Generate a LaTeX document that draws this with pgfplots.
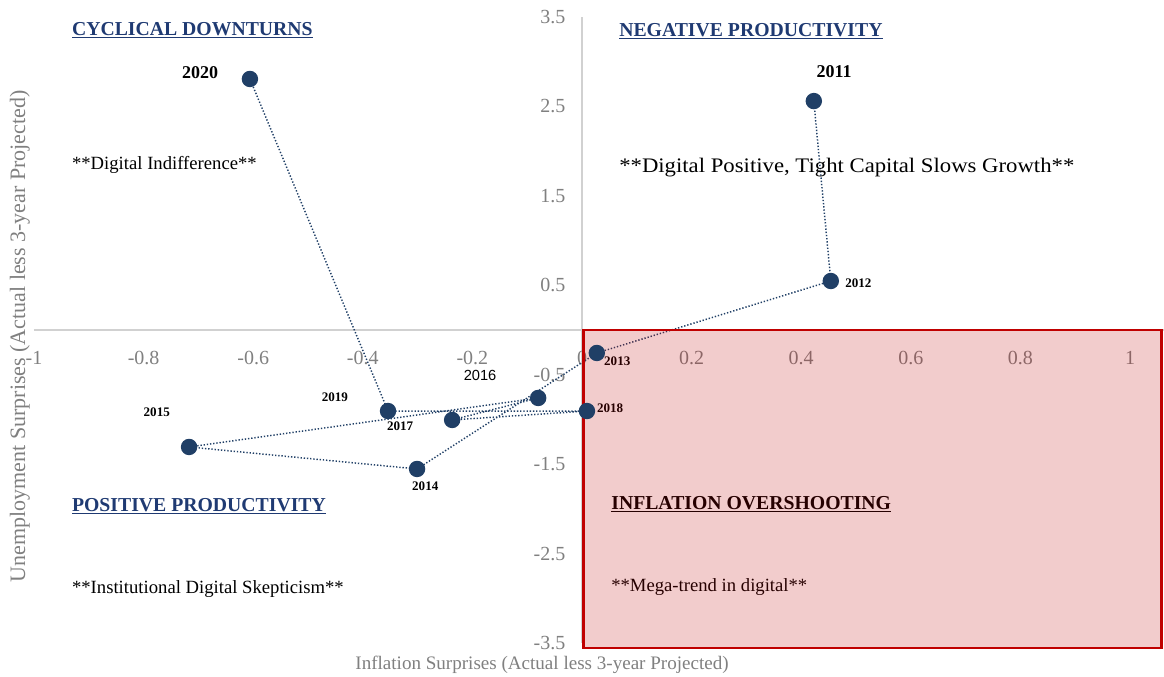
\documentclass[border=0pt]{standalone}
\usepackage{fontspec}
\setmainfont{Liberation Serif}
\newfontfamily\sansf{Liberation Sans}
\usepackage{graphicx}
\usepackage{pgfplots}
\pgfplotsset{compat=1.18}
\definecolor{navy}{HTML}{203F66}
\definecolor{headnavy}{HTML}{1F3A72}
\definecolor{tickgray}{HTML}{808080}
\definecolor{boxred}{HTML}{C00000}
\begin{document}
\begin{tikzpicture}[x=1pt,y=1pt]
\begin{axis}[
  scale only axis,
  width=847.5pt, height=469.5pt,
  xmin=-1, xmax=1.062, ymin=-3.5, ymax=3.5,
  axis lines=middle,
  axis line style={draw=black!18, line width=0.8pt, -},
  xtick={-1,-0.8,-0.6,-0.4,-0.2,0,0.2,0.4,0.6,0.8,1},
  ytick={-3.5,-2.5,-1.5,-0.5,0.5,1.5,2.5,3.5},
  hide obscured x ticks=false,
  hide obscured y ticks=false,
  major tick length=0pt,
  tick style={draw=none},
  /pgf/number format/assume math mode=true,
  xticklabel style={font=\fontsize{15}{16}\selectfont, text=tickgray, anchor=center, yshift=-21pt},
  yticklabel style={font=\fontsize{15}{16}\selectfont, text=tickgray, anchor=east, xshift=-9pt},
  xticklabel={\pgfmathprintnumber[fixed]{\tick}},
  yticklabel={\pgfmathprintnumber[fixed,precision=1]{\tick}},
  xlabel={Inflation Surprises (Actual less 3-year Projected)},
  ylabel={Unemployment Surprises (Actual less 3-year Projected)},
  xlabel style={at={(axis description cs:0.4496,-0.0351)}, anchor=center, font=\fontsize{14.3}{16}\selectfont, text=tickgray},
  ylabel style={at={(axis description cs:-0.0124,0.49)}, anchor=center, rotate=90, font=\fontsize{16.5}{18}\selectfont, text=tickgray},
  clip=false,
]
\addplot[navy, line width=1.1pt, dash pattern=on 1pt off 1.4pt,
  mark=*, mark size=5.6pt, mark options={solid, fill=navy, draw=navy}]
  coordinates {
  (0.423,2.56)   % 2011
  (0.454,0.548)  % 2012
  (0.027,-0.257) % 2013
  (-0.301,-1.554)% 2014
  (-0.717,-1.308)% 2015
  (-0.080,-0.760)% 2016
  (-0.237,-1.006)% 2017
  (0.009,-0.906) % 2018
  (-0.354,-0.906)% 2019
  (-0.606,2.807) % 2020
  };
% quadrant headings
\node[anchor=west, inner sep=0pt, text=headnavy, font=\fontsize{14.8}{16}\selectfont\bfseries] at (axis cs:-0.931,3.355) {\underline{CYCLICAL DOWNTURNS}};
\node[anchor=west, inner sep=0pt, text=headnavy, font=\fontsize{14.8}{16}\selectfont\bfseries] at (axis cs:0.0675,3.343) {\underline{NEGATIVE PRODUCTIVITY}};
\node[anchor=west, inner sep=0pt, text=headnavy, font=\fontsize{14.8}{16}\selectfont\bfseries] at (axis cs:-0.931,-1.968) {\underline{POSITIVE PRODUCTIVITY}};
\node[anchor=west, inner sep=0pt, text=black, font=\fontsize{14.8}{16}\selectfont\bfseries] at (axis cs:0.053,-1.946) {\underline{INFLATION OVERSHOOTING}};
% descriptions
\node[anchor=west, inner sep=0pt, font=\fontsize{14}{16}\selectfont] at (axis cs:-0.931,1.845) {**Digital Indifference**};
\node[anchor=west, inner sep=0pt, font=\fontsize{15.5}{17}\selectfont] at (axis cs:0.0675,1.811) {\scalebox{1.1}[1]{**Digital Positive, Tight Capital Slows Growth**}};
\node[anchor=west, inner sep=0pt, font=\fontsize{14}{16}\selectfont] at (axis cs:-0.931,-2.896) {**Institutional Digital Skepticism**};
\node[anchor=west, inner sep=0pt, font=\fontsize{14}{16}\selectfont] at (axis cs:0.053,-2.874) {**Mega-trend in digital**};
% year labels
\node[font=\fontsize{13.5}{15}\selectfont\bfseries] at (axis cs:-0.697,2.874) {2020};
\node[font=\fontsize{13.5}{15}\selectfont\bfseries] at (axis cs:0.460,2.885) {2011};
\node[anchor=west, inner sep=0pt, font=\fontsize{9.8}{11}\selectfont\bfseries] at (axis cs:0.480,0.526) {2012};
\node[anchor=west, inner sep=0pt, font=\fontsize{9.8}{11}\selectfont\bfseries] at (axis cs:0.040,-0.347) {2013};
\node[anchor=west, inner sep=0pt, font=\fontsize{9.8}{11}\selectfont\bfseries] at (axis cs:0.027,-0.872) {2018};
\node[font=\fontsize{11}{13}\selectfont\sansf] at (axis cs:-0.186,-0.503) {2016};
\node[font=\fontsize{9.8}{11}\selectfont\bfseries] at (axis cs:-0.451,-0.749) {2019};
\node[font=\fontsize{9.8}{11}\selectfont\bfseries] at (axis cs:-0.332,-1.073) {2017};
\node[font=\fontsize{9.8}{11}\selectfont\bfseries] at (axis cs:-0.776,-0.917) {2015};
\node[font=\fontsize{9.8}{11}\selectfont\bfseries] at (axis cs:-0.286,-1.744) {2014};
% shaded quadrant overlay
\fill[boxred, fill opacity=0.2] (axis cs:0.003,0) rectangle (axis cs:1.058,-3.556);
\draw[boxred, line width=2.2pt] (axis cs:0.003,0) rectangle (axis cs:1.058,-3.556);
\end{axis}
\pgfresetboundingbox
\path[use as bounding box] (-25.5pt,-25.5pt) rectangle (847.5pt,482.25pt);
\end{tikzpicture}
\end{document}
